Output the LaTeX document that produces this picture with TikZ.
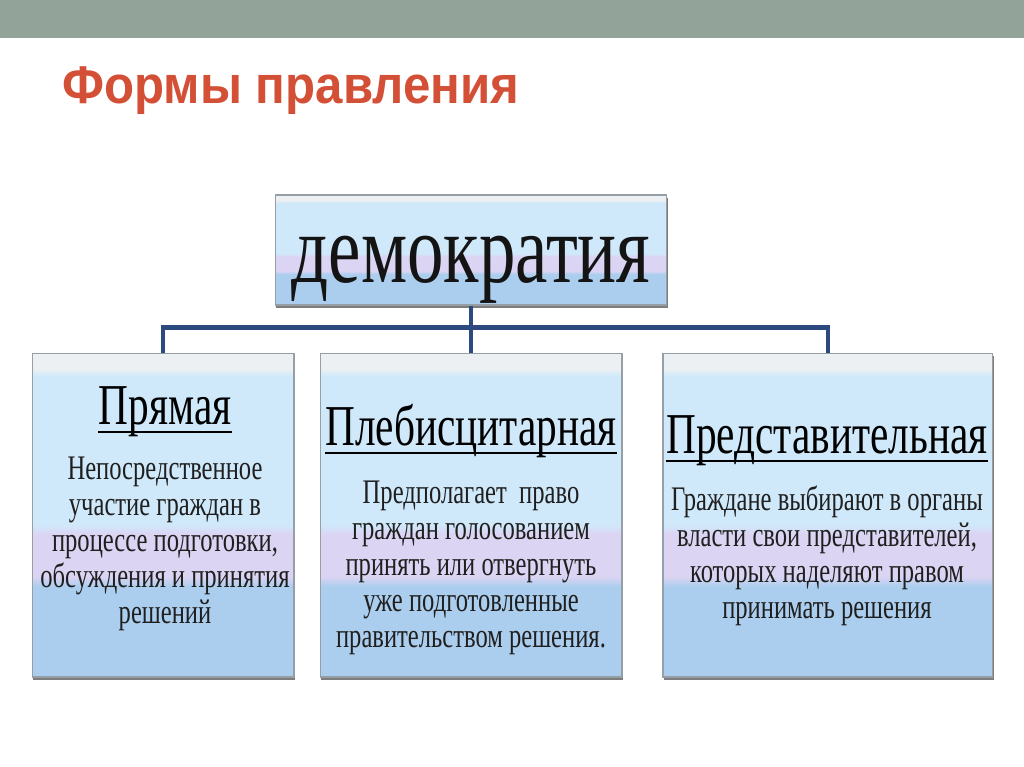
\documentclass[tikz,border=0pt]{standalone}
\usepackage{fontspec}
\setmainfont{Liberation Serif}
\newfontfamily\titlesans{Liberation Sans}
\usepackage{graphicx}
\usetikzlibrary{positioning, shadows}

\definecolor{barcol}{RGB}{146,163,154}
\definecolor{titlecol}{RGB}{211,80,55}
\definecolor{linkcol}{RGB}{44,74,128}
\definecolor{capgray}{RGB}{236,240,242}
\definecolor{skyblue}{RGB}{207,233,250}
\definecolor{lavend}{RGB}{220,212,243}
\definecolor{deepblue}{RGB}{172,206,238}
\definecolor{rimgray}{RGB}{150,158,166}

\pgfdeclareverticalshading{boxfill}{100bp}{color(0bp)=(deepblue); color(39bp)=(deepblue); color(40.5bp)=(lavend); color(47bp)=(lavend); color(48.5bp)=(skyblue); color(71.5bp)=(skyblue); color(72.5bp)=(capgray); color(100bp)=(capgray)}

\newcommand{\tallbox}[2]{\scalebox{1}[#1]{#2}}
\newcommand{\bodylines}[1]{\tallbox{1.4}{\begin{tabular}{@{}c@{}}#1\end{tabular}}}

\begin{document}
\begin{tikzpicture}[x=0.02cm, y=-0.02cm, node distance=0.5cm,
	block/.style={draw=rimgray, line width=0.6pt, shading=boxfill, inner sep=0pt, minimum height=6.48cm,
		drop shadow={shadow xshift=0.4pt, shadow yshift=-1.8pt, fill=black!60, opacity=0.85}},
	head/.style={inner sep=0pt, anchor=base, font=\fontsize{23.5}{26}\selectfont},
	body/.style={inner sep=0pt, text=black!88, font=\fontsize{14}{14.6}\selectfont},
	link/.style={draw=linkcol, line width=2.4pt},
	uline/.style={line width=1.3pt}]
	\useasboundingbox (0,0) rectangle (1024,767);
	\fill[barcol] (0,0) rectangle (1024,38);
	\node[anchor=base west, inner sep=0pt, text=titlecol, font=\titlesans\bfseries\fontsize{28}{32}\selectfont] (title) at (62,104) {\tallbox{1.08}{Формы правления}};

	% boxes
	\node[block, minimum width=7.84cm, minimum height=2.2cm] (demo) at (471,250) {};
	\node[block, minimum width=6.04cm, below=0.94cm of demo] (pleb) {};
	\node[block, minimum width=5.24cm, left=0.5cm of pleb] (direct) {};
	\node[block, minimum width=6.6cm, right=0.8cm of pleb] (repr) {};
	\coordinate[below=0.44cm of demo] (bus);

	\draw[link] (demo) -- (bus);
	\draw[link] (bus) -| (direct);
	\draw[link] (bus) -| (repr);
	\draw[link] (bus) -- (pleb);

	% texts
	\node[inner sep=0pt, anchor=base, text=black!92, font=\fontsize{41.5}{44}\selectfont] (demotext) at (471,282) {\tallbox{1.35}{демократия}};
	\node[head] (hdirect) at (165,424) {\tallbox{1.4}{Прямая}};
	\node[head] (hpleb) at (471,445) {\tallbox{1.4}{Плебисцитарная}};
	\node[head] (hrepr) at (827,453) {\tallbox{1.4}{Представительная}};
	\draw[uline] ([yshift=-4.5pt]hdirect.base west) -- ([yshift=-4.5pt]hdirect.base east);
	\draw[uline] ([yshift=-4.5pt]hpleb.base west) -- ([yshift=-4.5pt]hpleb.base east);
	\draw[uline] ([yshift=-4.5pt]hrepr.base west) -- ([yshift=-4.5pt]hrepr.base east);

	\node[body] (tdirect) at (165,544) {\bodylines{Непосредственное\\ участие граждан в\\ процессе подготовки,\\ обсуждения и принятия\\ решений}};
	\node[body] (tpleb) at (471,568) {\bodylines{Предполагает\ \ право\\ граждан голосованием\\ принять или отвергнуть\\ уже подготовленные\\ правительством решения.}};
	\node[body] (trepr) at (827,557) {\bodylines{Граждане выбирают в органы\\ власти свои представителей,\\ которых наделяют правом\\ принимать решения}};
\end{tikzpicture}
\end{document}
